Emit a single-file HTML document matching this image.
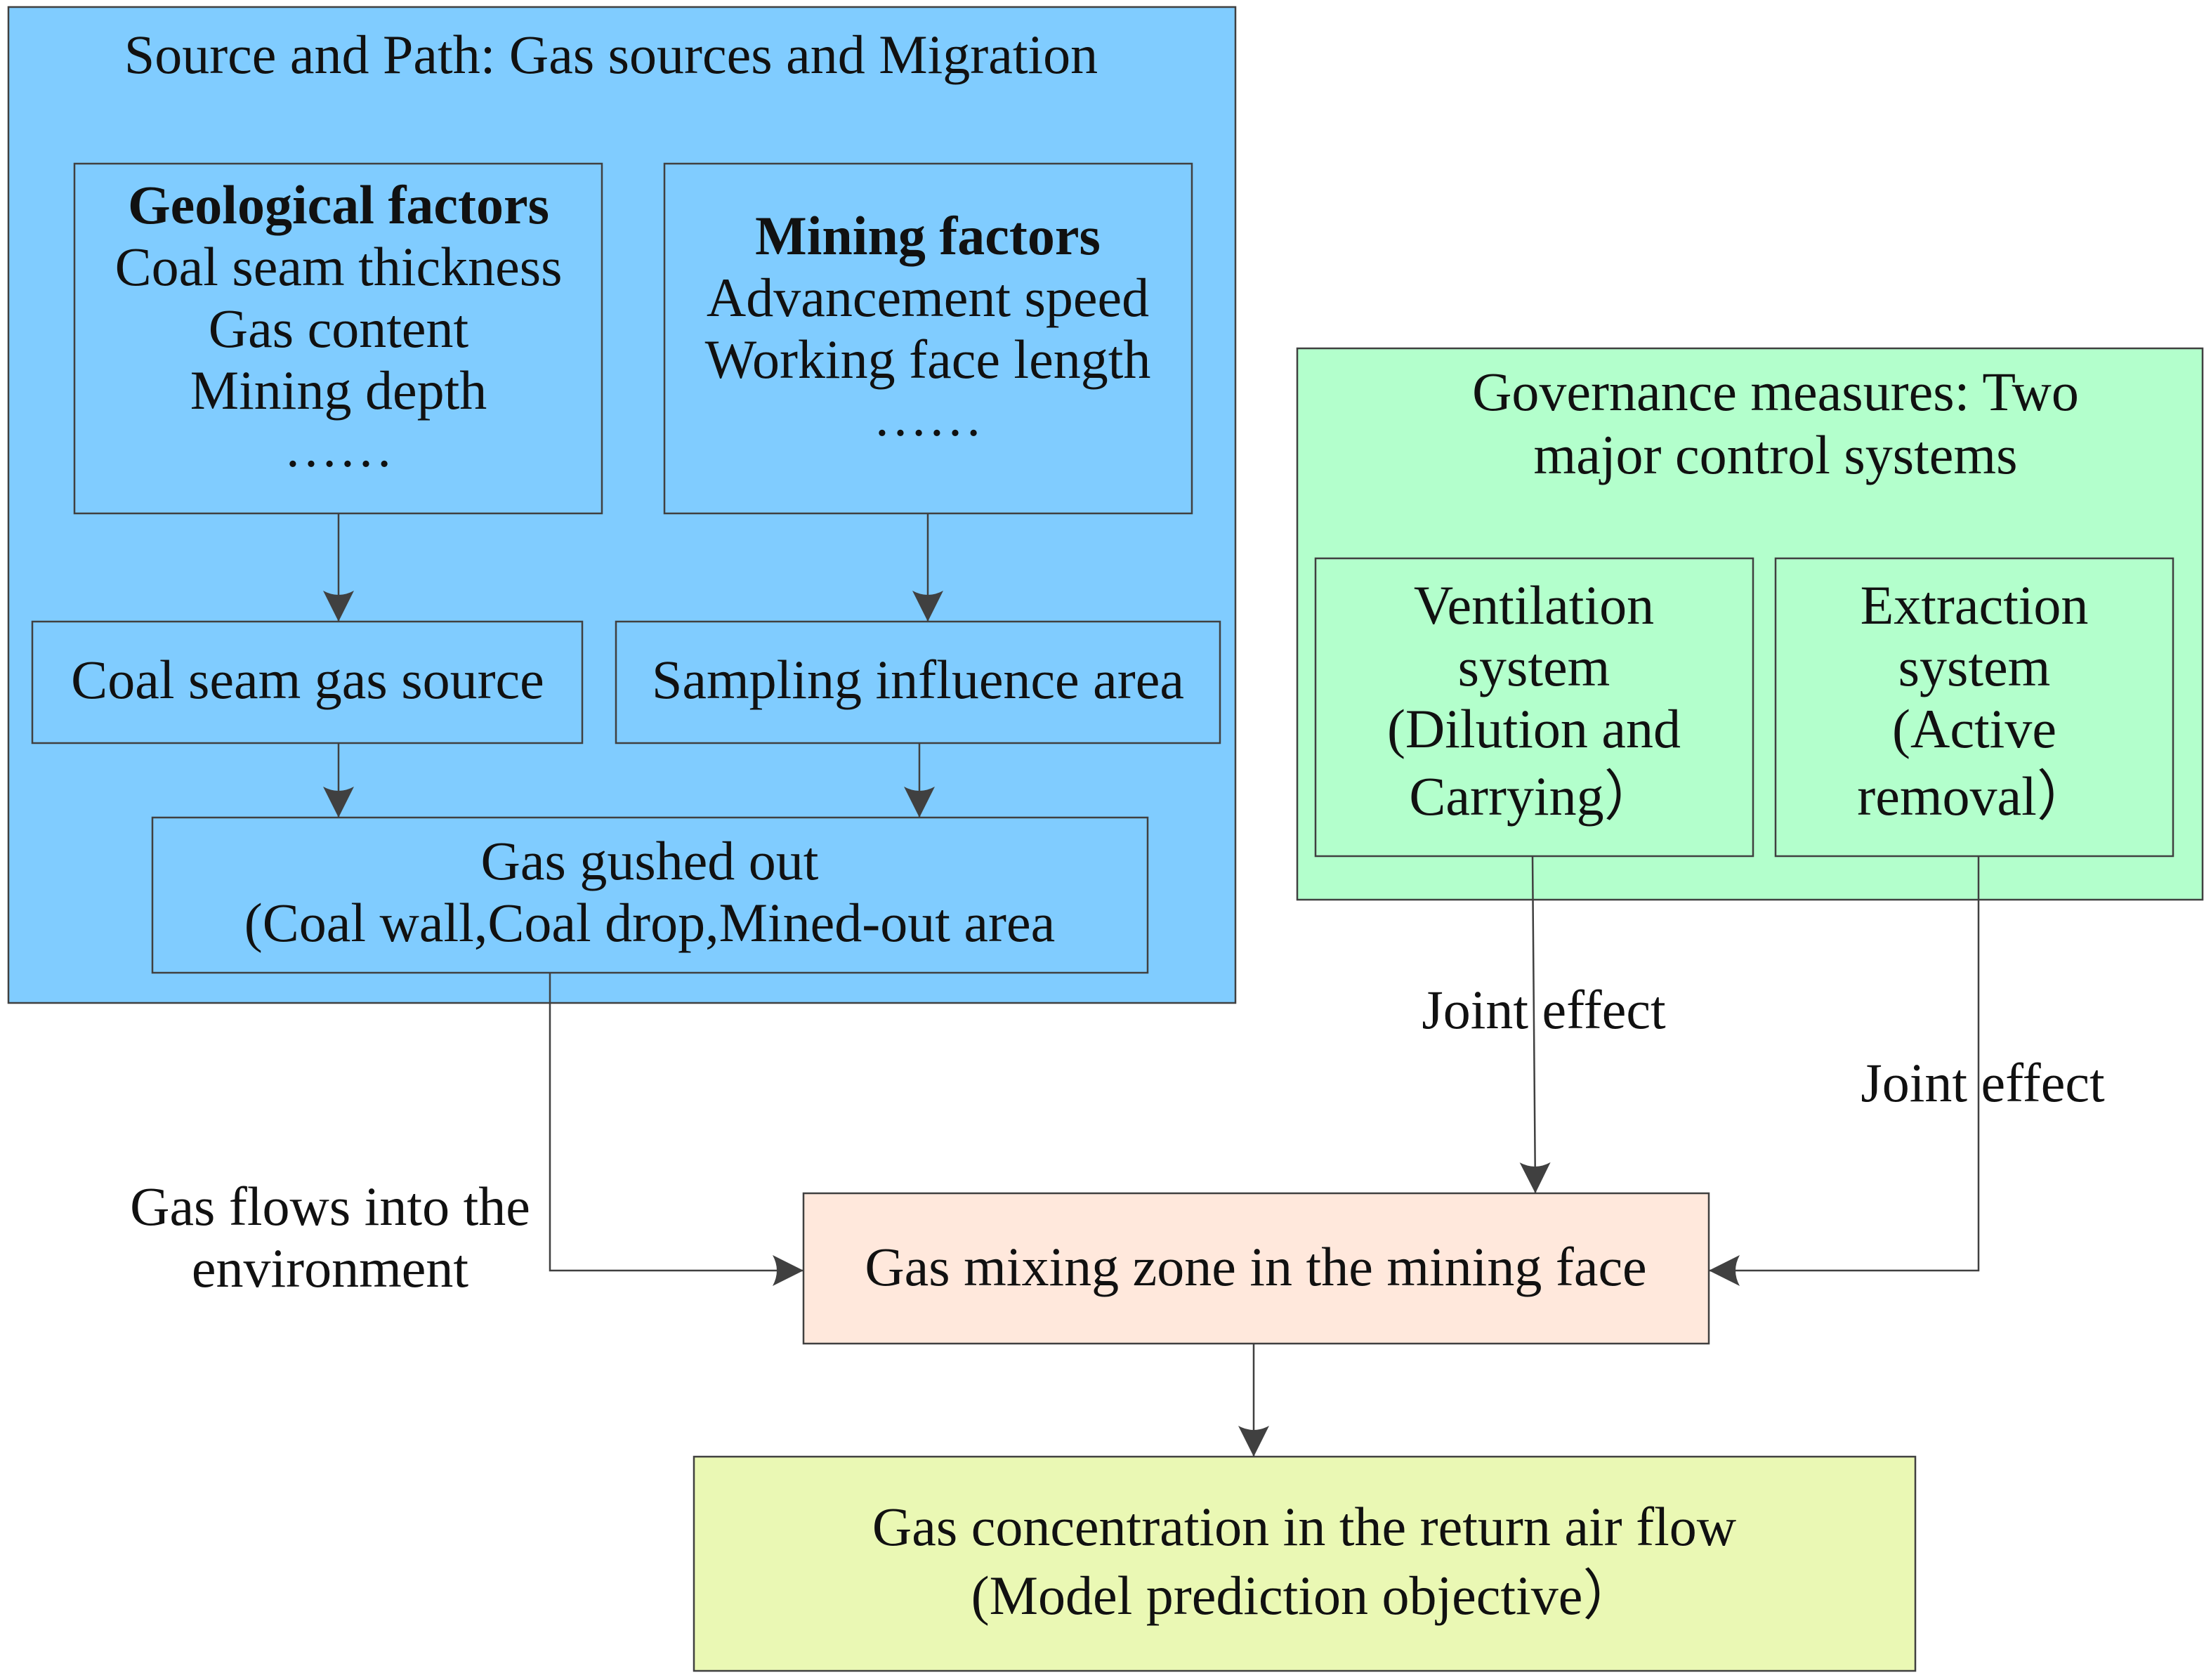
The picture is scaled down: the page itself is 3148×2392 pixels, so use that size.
<!DOCTYPE html>
<html><head><style>html,body{margin:0;padding:0;background:#fff}svg{display:block}text{font-family:"Liberation Serif",serif;font-size:78px;fill:#111}</style></head>
<body>
<svg width="3148" height="2392" viewBox="0 0 3148 2392" xmlns="http://www.w3.org/2000/svg">
<defs><marker id="a" markerWidth="46" markerHeight="46" refX="44" refY="22" orient="auto" markerUnits="userSpaceOnUse"><path d="M0,0 L44,22 L0,44 Q12,22 0,0Z" fill="#404040"/></marker></defs>
<g stroke="#404040" stroke-width="2.5">
<rect x="12" y="10" width="1747" height="1418" fill="#80CCFF"/>
<rect x="106" y="233" width="751" height="498" fill="#80CCFF"/>
<rect x="946" y="233" width="751" height="498" fill="#80CCFF"/>
<rect x="46" y="885" width="783" height="173" fill="#80CCFF"/>
<rect x="877" y="885" width="860" height="173" fill="#80CCFF"/>
<rect x="217" y="1164" width="1417" height="221" fill="#80CCFF"/>
<rect x="1847" y="496" width="1289" height="785" fill="#B3FFCC"/>
<rect x="1873" y="795" width="623" height="424" fill="#B3FFCC"/>
<rect x="2528" y="795" width="566" height="424" fill="#B3FFCC"/>
<rect x="1144" y="1699" width="1289" height="214" fill="#FFE8DC"/>
<rect x="988" y="2074" width="1739" height="305" fill="#EAF8B4"/>
<g fill="none" marker-end="url(#a)">
<path d="M482,731 V885"/>
<path d="M1321,731 V885"/>
<path d="M482,1058 V1164"/>
<path d="M1309,1058 V1164"/>
<path d="M783,1385 V1809 H1144"/>
<path d="M2182,1219 L2186,1699"/>
<path d="M2817,1219 V1809 H2433"/>
<path d="M1785,1913 V2074"/>
</g></g>
<g text-anchor="middle">
<text x="870" y="104">Source and Path: Gas sources and Migration</text>
<text x="482" y="318" font-weight="bold">Geological factors</text>
<text x="482" y="406">Coal seam thickness</text>
<text x="482" y="494">Gas content</text>
<text x="482" y="582">Mining depth</text>
<text x="482" y="664">……</text>
<text x="1321" y="362" font-weight="bold">Mining factors</text>
<text x="1321" y="450">Advancement speed</text>
<text x="1321" y="538">Working face length</text>
<text x="1321" y="620">……</text>
<text x="438" y="994">Coal seam gas source</text>
<text x="1307" y="994">Sampling influence area</text>
<text x="925" y="1252">Gas gushed out</text>
<text x="925" y="1340">(Coal wall,Coal drop,Mined-out area</text>
<text x="2528" y="584">Governance measures: Two</text>
<text x="2528" y="674">major control systems</text>
<text x="2184" y="888">Ventilation</text>
<text x="2184" y="976">system</text>
<text x="2184" y="1064">(Dilution and</text>
<text x="2184" y="1160">Carrying）</text>
<text x="2811" y="888">Extraction</text>
<text x="2811" y="976">system</text>
<text x="2811" y="1064">(Active</text>
<text x="2811" y="1160">removal）</text>
<text x="2198" y="1464">Joint effect</text>
<text x="2823" y="1568">Joint effect</text>
<text x="470" y="1744">Gas flows into the</text>
<text x="470" y="1832">environment</text>
<text x="1788" y="1830">Gas mixing zone in the mining face</text>
<text x="1857" y="2200">Gas concentration in the return air flow</text>
<text x="1857" y="2298">(Model prediction objective）</text>
</g>
</svg>
</body></html>
